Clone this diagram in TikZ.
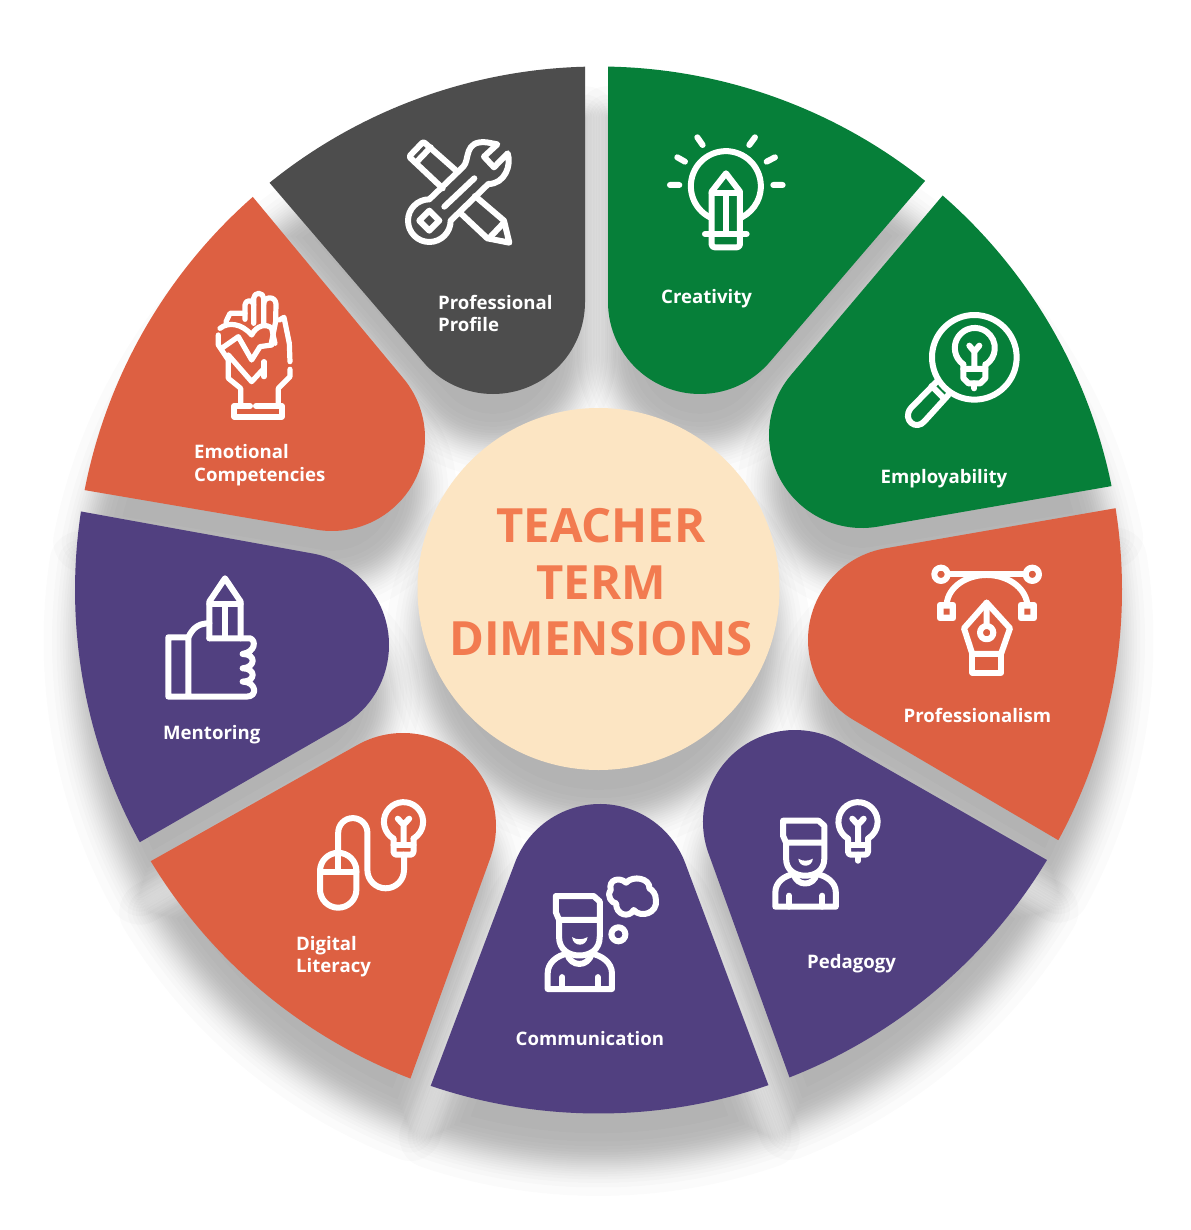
\documentclass[tikz,border=0pt]{standalone}
\usepackage{fontspec}
\setmainfont{Open Sans}
\definecolor{cgray}{HTML}{4D4D4D}
\definecolor{cgreen}{HTML}{067F39}
\definecolor{corange}{HTML}{DD6042}
\definecolor{cpurple}{HTML}{514080}
\definecolor{ccream}{HTML}{FCE5C3}
\definecolor{ctitle}{HTML}{F27B50}
\tikzset{
  sfill/.style={fill=#1},
  ico/.style={draw=white,line width=6pt,line cap=round,line join=round},
  icothin/.style={draw=white,line width=5.2pt,line cap=round,line join=round},
  lab/.style={anchor=base west,text=white,inner sep=0pt,font=\fontsize{18.6}{22}\selectfont\bfseries},
  ttl/.style={anchor=base,text=ctitle,inner sep=0pt,font=\fontsize{47.2}{50}\selectfont\bfseries},
}
% outer angles a1 a2, tip centre cx cy, tip radius r, tip angles t1 t2, colour
\newcommand{\sege}[8]{%
  \pgfmathsetmacro{\dd}{deg(\er/(523.5-\er))}%
  \pgfmathsetmacro{\aa}{#1+\dd}%
  \pgfmathsetmacro{\ab}{#2-\dd}%
  \pgfmathsetmacro{\RR}{523.5-\er}%
  \pgfmathsetmacro{\rr}{#5-\er}%
  \fill[sfill=#8] ({598.5+\RR*cos(\aa)},{590+\RR*sin(\aa)})
    arc[start angle=\aa,end angle=\ab,radius=\RR]
    -- ({#3+\rr*cos(#6)},{#4+\rr*sin(#6)})
    arc[start angle=#6,end angle=#7,radius=\rr] -- cycle;}
\newcommand{\segd}[8]{%
  \begin{scope}[transparency group,opacity=.01408]
  \filldraw[fill=black,draw=black,line width=\lw pt,line join=round] ({598.5+523.5*cos(#1)},{590+523.5*sin(#1)})
    arc[start angle=#1,end angle=#2,radius=523.5]
    -- ({#3+#5*cos(#6)},{#4+#5*sin(#6)})
    arc[start angle=#6,end angle=#7,radius=#5] -- cycle;
  \end{scope}}
\newcommand{\allsegs}{%
  \seg{231.07}{268.52}{493}{302}{92}{360}{500.3}{cgray}%
  \seg{-88.96}{-51.4}{700}{302}{92}{39.7}{180}{cgreen}%
  \seg{-48.9}{-11.45}{862}{435}{93}{80.4}{220.5}{cgreen}%
  \seg{-8.99}{28.55}{901}{640}{93}{120.7}{260.1}{corange}%
  \seg{31.05}{68.6}{795}{822}{92}{160.2}{300.7}{cpurple}%
  \seg{71.06}{108.7}{600}{895}{91}{200.6}{339.4}{cpurple}%
  \seg{111.06}{148.8}{403}{826}{93}{240}{379.6}{corange}%
  \seg{151.2}{188.63}{296}{645}{93}{279.9}{420.6}{cpurple}%
  \seg{191}{228.67}{332}{438}{93}{319.5}{459.9}{corange}%
}
% small light bulb in real pixels, glass centre at origin; #1 = lower end of stem
\newcommand{\bulb}[1]{%
  \draw[ico] (-10,16.9) arc[start angle=120.7,end angle=419.3,radius=19.6];
  \draw[ico,rounded corners=3pt] (-10,16.9) -- (-10,33) -- (10,33) -- (10,16.9);
  \draw[ico] (-10,23) -- (10,23);
  \draw[ico] (0,23) -- (0,3) (-5.7,-3) -- (0,3) -- (5.7,-3);
  \draw[ico] (0,33) -- (0,#1);
}
\newcommand{\personicon}{%
  \draw[ico] (-50,66) -- (-58,45) -- (-58,0) -- (35,0) -- (50,15) -- (50,113)
     .. controls (50,150) and (25,165) .. (0,165) .. controls (-25,165) and (-50,150) .. (-50,113) -- (-50,66) -- (50,66);
  \fill[white] (-18,114) .. controls (-8,122) and (8,122) .. (20,114) .. controls (18,142) and (-16,142) .. (-18,114) -- cycle;
  \draw[ico] (-78,258) -- (80,258) -- (80,215) .. controls (80,185) and (55,165) .. (30,160)
     .. controls (22,198) and (-22,198) .. (-30,160) .. controls (-55,165) and (-78,185) .. (-78,215) -- cycle;
  \draw[ico] (-42,225) -- (-42,258) (45,225) -- (45,258);
}
\begin{document}
\begin{tikzpicture}[x=1pt,y=-1pt]
\fill[white] (0,0) rectangle (1190,1230);
% soft shadow: stacked translucent offsets of each shape
\begin{scope}[shift={(0,51)},sfill/.style={fill=black,fill opacity=.01408}]
\let\seg\sege
\foreach \er in {31.4,23,18.4,14.9,12.1,9.6,7.3,5.1,3,1}{%
  \allsegs
  \pgfmathsetmacro{\rc}{181-\er}%
  \fill[sfill=black] (598.5,589) circle[radius=\rc];
}
\let\seg\segd
\foreach \dl in {1,3,5.1,7.3,9.6,12.1,14.9,18.4,23,31.4}{%
  \pgfmathsetmacro{\lw}{2*\dl}%
  \allsegs
  \pgfmathsetmacro{\rc}{181+\dl}%
  \fill[sfill=black] (598.5,589) circle[radius=\rc];
}
\end{scope}
\def\er{0}
\let\seg\sege
\allsegs
\node[circle,fill=ccream,minimum size=362pt,inner sep=0pt] (hub) at (598.5,589) {};
\node[ttl] (t1) at (601,542.7) {TEACHER};
\node[ttl] (t2) at (601,599.3) {TERM};
\node[ttl] (t3) at (601,655.7) {DIMENSIONS};
% labels
\node[lab] (l1a) at (438,309) {Professional};
\node[lab] (l1b) at (438,331) {Profile};
\node[lab] (l2) at (661,303) {Creativity};
\node[lab] (l3) at (880.5,483) {Employability};
\node[lab] (l4) at (903.5,722) {Professionalism};
\node[lab] (l5) at (807,968) {Pedagogy};
\node[lab] (l6) at (515.5,1045) {Communication};
\node[lab] (l7a) at (296,950) {Digital};
\node[lab] (l7b) at (296,972) {Literacy};
\node[lab] (l8) at (163,739) {Mentoring};
\node[lab] (l9a) at (194,458) {Emotional};
\node[lab] (l9b) at (194,481) {Competencies};
% ---- icons measured at 3x
\begin{scope}[shift={(380,110)},x=.3333pt,y=-.3333pt]
  % wrench
  \draw[ico] (352,103) -- (312,140) -- (342,172) -- (383,130) .. controls (395,165) and (375,222) .. (325,222)
     -- (212,332) arc[start angle=0,end angle=270,radius=64] -- (250,170)
     .. controls (270,150) and (250,90) .. (320,97) -- cycle;
  \draw[ico] (283,205) -- (193,290);
  \draw[ico] (148,302) -- (178,332) -- (148,362) -- (118,332) -- cycle;
  % pencil
  \draw[ico,rounded corners=2pt] (232,185) -- (130,95) -- (87,140) -- (188,235);
  \draw[ico] (152,112) -- (108,158);
  \draw[ico] (285,258) -- (372,332) -- (388,398) -- (322,385) -- (240,308);
  \draw[ico] (368,342) -- (330,382);
  % bulb and pencil
  \draw[ico] (990,322) arc[start angle=117,end angle=423,radius=105];
  \draw[ico] (995,372) -- (995,245) -- (1038,190) -- (1080,245) -- (1080,372);
  \draw[ico] (995,250) -- (1080,250) (1038,250) -- (1038,372);
  \draw[ico] (975,372) -- (1100,372);
  \draw[ico,rounded corners=3pt] (995,372) -- (995,412) -- (1080,412) -- (1080,372);
  \draw[ico] (952,82) -- (968,105) (1125,82) -- (1108,105) (892,142) -- (915,155) (1185,142) -- (1160,155) (870,225) -- (898,225) (1180,225) -- (1208,225);
\end{scope}
\begin{scope}[shift={(150,280)},x=.3333pt,y=-.3333pt]
  % hand
  \draw[icothin] (285,118) -- (285,75) arc[start angle=180,end angle=360,radius=13] -- (311,130);
  \draw[icothin] (311,75) -- (311,55) arc[start angle=180,end angle=360,radius=15] -- (341,135);
  \draw[icothin] (341,72) arc[start angle=180,end angle=360,radius=18.5] -- (377,125) -- (363,195);
  \draw[icothin] (388,120) -- (402,112) -- (418,190) -- (420,245);
  \draw[icothin] (420,268) -- (420,290) -- (385,325) -- (385,378);
  \draw[icothin] (285,100) -- (240,100) -- (228,125);
  \draw[icothin] (205,165) -- (205,195) -- (235,240) -- (235,295) -- (272,325) -- (272,378);
  \draw[ico] (300,378) -- (253,378) -- (253,410) -- (395,410) -- (395,378) -- (318,378);
  % heart
  \draw[icothin] (210,145) .. controls (235,125) and (275,130) .. (305,165) .. controls (320,135) and (350,130) .. (365,145)
     -- (375,190);
  \draw[icothin] (235,225) -- (305,305) -- (342,265);
  \draw[icothin] (215,205) -- (265,170) -- (305,240) -- (330,200) -- (365,195);
  \draw[icothin] (342,245) -- (342,290);
  % thumb with pencil
  \draw[ico] (178,1075) -- (178,965) -- (225,895) -- (272,965) -- (272,1075);
  \draw[ico] (178,972) -- (272,972) (225,972) -- (225,1072);
  \draw[ico] (178,1075) -- (300,1075) .. controls (318,1080) and (318,1115) .. (278,1122)
    .. controls (318,1122) and (318,1162) .. (278,1165)
    .. controls (318,1165) and (318,1205) .. (278,1205)
    .. controls (318,1205) and (325,1250) .. (290,1250) -- (55,1250) -- (55,1072) -- (115,1072) -- (115,1250);
  \draw[ico] (115,1072) .. controls (130,1040) and (150,1030) .. (178,1030);
\end{scope}
\begin{scope}[shift={(880,300)},x=.3333pt,y=-.3333pt]
  % magnifier
  \draw[ico] (283,172) circle[radius=127];
  \begin{scope}[shift={(283,145)}]
    \draw[ico] (-33,48) arc[start angle=125,end angle=415,radius=60];
    \draw[ico] (-33,48) -- (-33,90) -- (-18,105) -- (18,105) -- (33,90) -- (33,48);
    \draw[ico] (-33,62) -- (33,62) (0,62) -- (0,10) (-15,-8) -- (0,10) -- (15,-8);
    \draw[ico] (0,105) -- (0,120);
  \end{scope}
  \draw[ico] (170,245) -- (92,325) .. controls (65,360) and (110,395) .. (135,362) -- (205,285);
  \draw[ico] (155,258) -- (192,295);
  % pen tool
  \draw[ico] (183,823) circle[radius=20] (457,823) circle[radius=20];
  \draw[ico] (205,823) -- (435,823);
  \draw[ico] (200,912) .. controls (205,860) and (260,825) .. (320,825) .. controls (380,825) and (435,860) .. (442,912);
  \draw[ico,fill=white] (180,915) rectangle (220,955) (422,915) rectangle (462,955);
  \fill[corange] (191,926) rectangle (209,944) (433,926) rectangle (451,944);
  \draw[ico] (320,908) -- (390,985) -- (363,1062) -- (277,1062) -- (252,985) -- cycle;
  \draw[ico] (320,998) circle[radius=20] (320,908) -- (320,975);
  \draw[ico] (277,1062) -- (277,1118) -- (363,1118) -- (363,1062);
\end{scope}
% mouse, cord and bulbs in real pixels
\draw[ico] (320,871) arc[start angle=180,end angle=360,radius=18.2] -- (356.4,889.5) arc[start angle=0,end angle=180,radius=18.2] -- cycle;
\draw[ico] (320,871.7) -- (356.4,871.7) (338.2,853) -- (338.2,871.7);
\draw[ico] (338.2,853) -- (338.2,832.7) arc[start angle=180,end angle=360,radius=14.6] -- (367.4,870) arc[start angle=180,end angle=0,radius=18.3] -- (404,855);
\begin{scope}[shift={(403.5,821.7)}]\bulb{33}\end{scope}
\begin{scope}[shift={(858,821.7)}]\bulb{39}\end{scope}
% people, measured in a crop 2.613x wide and 3x high
\begin{scope}[shift={(805.2,820.7)},x=.3827pt,y=-.3333pt]\personicon\end{scope}
\begin{scope}[shift={(579.4,896)},x=.407pt,y=-.3605pt]\personicon\end{scope}
% thought cloud
\begin{scope}[shift={(300,790)},x=.3827pt,y=-.3333pt]
  \draw[ico] (852,278) .. controls (835,260) and (805,268) .. (812,300)
    .. controls (800,318) and (815,340) .. (826,340)
    .. controls (825,375) and (860,385) .. (872,360)
    .. controls (890,385) and (935,370) .. (930,330)
    .. controls (930,310) and (920,300) .. (913,295)
    .. controls (915,265) and (870,255) .. (852,278) -- cycle;
\end{scope}
\draw[ico] (618.4,934.3) circle[radius=7];
\end{tikzpicture}
\end{document}
